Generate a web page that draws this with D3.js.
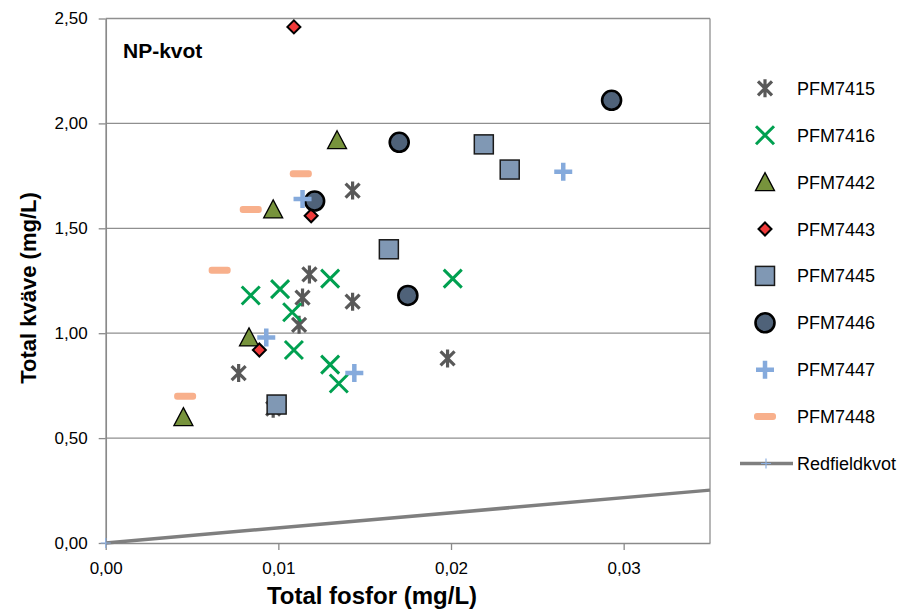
<!DOCTYPE html>
<html>
<head>
<meta charset="utf-8">
<script src="https://cdn.jsdelivr.net/npm/d3@7"></script>
<style>
  body { margin: 0; background: #fff; }
  text { font-family: "Liberation Sans", Arial, sans-serif; fill: #000; }
</style>
</head>
<body>
<div id="chart"></div>
<script>
// data: [total fosfor, total kväve] in mg/L
const pfm7415 = [[0.0118, 1.28], [0.0114, 1.17], [0.0143, 1.15], [0.0112, 1.04], [0.0077, 0.81], [0.0097, 0.64], [0.0143, 1.68], [0.0198, 0.88]];
const pfm7416 = [[0.0084, 1.18], [0.0101, 1.21], [0.0130, 1.26], [0.0108, 1.10], [0.0109, 0.92], [0.0130, 0.85], [0.0135, 0.76], [0.0201, 1.26]];
const pfm7442 = [[0.0134, 1.92], [0.0097, 1.59], [0.0083, 0.98], [0.0045, 0.60]];
const pfm7443 = [[0.0109, 2.46], [0.0119, 1.56], [0.0089, 0.92]];
const pfm7445 = [[0.0219, 1.90], [0.0234, 1.78], [0.0164, 1.40], [0.0099, 0.66]];
const pfm7446 = [[0.0293, 2.11], [0.0170, 1.91], [0.0175, 1.18], [0.0121, 1.63]];
const pfm7447 = [[0.0265, 1.77], [0.0114, 1.64], [0.0093, 0.98], [0.0144, 0.81]];
const pfm7448 = [[0.0046, 0.70], [0.0066, 1.30], [0.0084, 1.59], [0.0113, 1.76]];
const redfieldP = [0, 0.035];
const redfieldN = [0, 0.252];

const seriesNames = ["PFM7415", "PFM7416", "PFM7442", "PFM7443", "PFM7445", "PFM7446", "PFM7447", "PFM7448"];
const seriesData = [pfm7415, pfm7416, pfm7442, pfm7443, pfm7445, pfm7446, pfm7447, pfm7448];
const xTicks = [0, 0.01, 0.02, 0.03];
const yTicks = [0, 0.5, 1, 1.5, 2, 2.5];

const width = 902, height = 611;
const svg = d3.select("#chart").append("svg")
    .attr("width", width)
    .attr("height", height);

const x = d3.scaleLinear().domain([0, 0.035]).range([105.7, 710]);
const y = d3.scaleLinear().domain([0, 2.5]).range([543, 18.5]);

const fmt = d3.formatLocale({decimal: ",", thousands: " ", grouping: [3], currency: ["", ""]}).format(".2f");

// gridlines
svg.append("g").selectAll("line")
    .data(yTicks.slice(1))
    .join("line")
    .attr("x1", x(0)).attr("x2", x(0.035))
    .attr("y1", d => y(d)).attr("y2", d => y(d))
    .attr("stroke", "#8f8f8f")
    .attr("stroke-width", 1.3);

// right border of the plot
svg.append("line")
    .attr("x1", x(0.035)).attr("x2", x(0.035))
    .attr("y1", y(2.5)).attr("y2", y(0))
    .attr("stroke", "#8f8f8f").attr("stroke-width", 1.3);

const xAxis = svg.append("g")
    .attr("transform", `translate(0,${y(0)})`)
    .call(d3.axisBottom(x).tickValues(xTicks).tickFormat(fmt).tickSizeInner(7).tickSizeOuter(0).tickPadding(12));

const yAxis = svg.append("g")
    .attr("transform", `translate(${x(0)},0)`)
    .call(d3.axisLeft(y).tickValues(yTicks).tickFormat(fmt).tickSizeInner(7).tickSizeOuter(0).tickPadding(11));

[xAxis, yAxis].forEach(g => {
    g.select(".domain").attr("stroke", "#8a8a8a").attr("stroke-width", 1.7);
    g.selectAll(".tick line").attr("stroke", "#8a8a8a").attr("stroke-width", 1.3);
    g.selectAll(".tick text").attr("font-size", 17).attr("font-family", "Liberation Sans, Arial, sans-serif").attr("fill", "#000");
});

// Redfield line
const redfield = redfieldP.map((p, i) => [p, redfieldN[i]]);
svg.append("path")
    .datum(redfield)
    .attr("d", d3.line().x(d => x(d[0])).y(d => y(d[1])))
    .attr("fill", "none")
    .attr("stroke", "#7f7f7f")
    .attr("stroke-width", 3.5);
svg.append("path")
    .attr("d", `M${x(0) - 5},${y(0)}h10M${x(0)},${y(0) - 5}v10`)
    .attr("stroke", "#8db0e0").attr("stroke-width", 1.2);

// marker drawing per series
function drawMarker(g, i) {
    switch (i) {
        case 0: // asterisk
            g.append("path")
                .attr("d", "M-7,-7L7,7M7,-7L-7,7M0,-9V9")
                .attr("stroke", "#595959").attr("stroke-width", 3.2).attr("fill", "none");
            break;
        case 1: // x
            g.append("path")
                .attr("d", "M-9,-9L9,9M9,-9L-9,9")
                .attr("stroke", "#00a050").attr("stroke-width", 3).attr("fill", "none");
            break;
        case 2: // triangle
            g.append("path")
                .attr("d", "M0,-9.5L9.5,8.5L-9.5,8.5Z")
                .attr("fill", "#77933c").attr("stroke", "#000").attr("stroke-width", 1.3);
            break;
        case 3: // diamond
            g.append("path")
                .attr("d", "M0,-6.5L6.5,0L0,6.5L-6.5,0Z")
                .attr("fill", "#f03a3a").attr("stroke", "#000").attr("stroke-width", 2);
            break;
        case 4: // square
            g.append("rect")
                .attr("x", -9.5).attr("y", -9.5).attr("width", 19).attr("height", 19)
                .attr("fill", "#8098b4").attr("stroke", "#1a1a1a").attr("stroke-width", 1.5);
            break;
        case 5: // circle
            g.append("circle")
                .attr("r", 9.5)
                .attr("fill", "#4f6279").attr("stroke", "#000").attr("stroke-width", 2.6);
            break;
        case 6: // plus
            g.append("path")
                .attr("d", "M-9,0H9M0,-9V9")
                .attr("stroke", "#85aadc").attr("stroke-width", 4.5).attr("fill", "none");
            break;
        case 7: // dash
            g.append("rect")
                .attr("x", -11).attr("y", -3.5).attr("width", 22).attr("height", 7).attr("rx", 3)
                .attr("fill", "#f8b08c");
            break;
    }
}

seriesData.forEach((pts, i) => {
    svg.append("g").selectAll("g")
        .data(pts)
        .join("g")
        .attr("transform", d => `translate(${x(d[0])},${y(d[1])})`)
        .each(function () { drawMarker(d3.select(this), i); });
});

// chart label
svg.append("text")
    .attr("x", 123).attr("y", 58)
    .attr("font-size", 21).attr("font-weight", "bold")
    .text("NP-kvot");

// axis titles
svg.append("text")
    .attr("x", 372).attr("y", 604)
    .attr("text-anchor", "middle")
    .attr("font-size", 24).attr("font-weight", "bold")
    .text("Total fosfor (mg/L)");

svg.append("text")
    .attr("transform", "translate(36,288) rotate(-90)")
    .attr("text-anchor", "middle")
    .attr("font-size", 22).attr("font-weight", "bold")
    .text("Total kväve (mg/L)");

// legend
const legendY = d3.scaleLinear().domain([0, 8]).range([88.3, 463.5]);
const legend = svg.append("g");
seriesNames.forEach((name, i) => {
    const g = legend.append("g").attr("transform", `translate(765,${legendY(i)})`);
    drawMarker(g, i);
    legend.append("text")
        .attr("x", 797).attr("y", legendY(i) + 6.5)
        .attr("font-size", 18)
        .text(name);
});
const ry = legendY(8);
legend.append("line")
    .attr("x1", 740).attr("x2", 793).attr("y1", ry).attr("y2", ry)
    .attr("stroke", "#7f7f7f").attr("stroke-width", 3.5);
legend.append("path")
    .attr("d", `M761,${ry}h10M766,${ry - 5}v10`)
    .attr("stroke", "#8db0e0").attr("stroke-width", 1.2);
legend.append("text")
    .attr("x", 797).attr("y", ry + 6.5)
    .attr("font-size", 18)
    .text("Redfieldkvot");
</script>
</body>
</html>
